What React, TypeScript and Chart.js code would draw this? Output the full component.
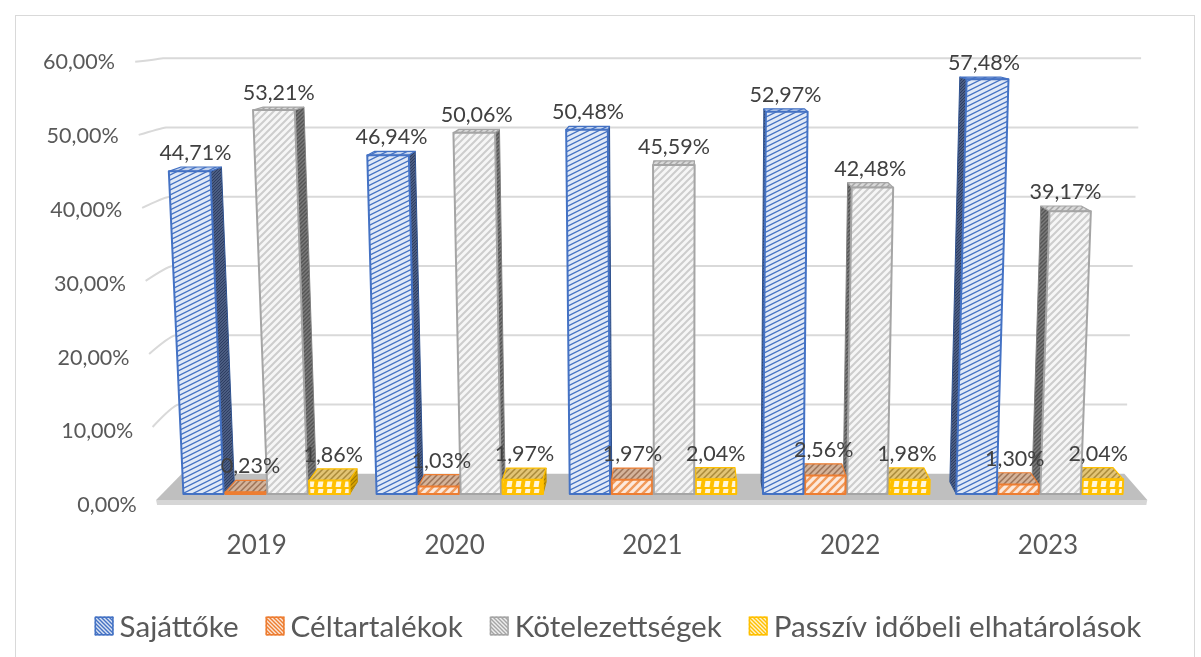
import React, { useEffect, useRef } from "react";
import { Chart, registerables } from "chart.js";
Chart.register(...registerables);

const years = ["2019", "2020", "2021", "2022", "2023"];
const sajattoke = [44.71, 46.94, 50.48, 52.97, 57.48];
const celtartalekok = [0.23, 1.03, 1.97, 2.56, 1.3];
const kotelezettsegek = [53.21, 50.06, 45.59, 42.48, 39.17];
const passziv = [1.86, 1.97, 2.04, 1.98, 2.04];
const seriesNames = ["Sajáttőke", "Céltartalékok", "Kötelezettségek", "Passzív időbeli elhatárolások"];
const yTicks = [0, 10, 20, 30, 40, 50, 60];

const FONT = "Lato, 'Open Sans', sans-serif";
const VX = 680;
const VY = -10;
const DB = 0.024;
const LEAN = 11000;

type Pat = CanvasPattern | string;

function tile(w: number, h: number, draw: (g: CanvasRenderingContext2D) => void): Pat {
  const c = document.createElement("canvas");
  c.width = w;
  c.height = h;
  const g = c.getContext("2d")!;
  draw(g);
  const p = g.createPattern(c, "repeat");
  return p || "#ccc";
}

function stripes(bg: string, fg: string, w: number, h: number, lw: number, dir: "up" | "down"): Pat {
  return tile(w, h, (g) => {
    g.fillStyle = bg;
    g.fillRect(0, 0, w, h);
    g.strokeStyle = fg;
    g.lineWidth = lw;
    g.beginPath();
    if (dir === "up") {
      for (const o of [0, -1, 1]) {
        g.moveTo(-w, 2 * h + o * h);
        g.lineTo(2 * w, -h + o * h);
      }
    } else {
      for (const o of [0, -1, 1]) {
        g.moveTo(-w, -h + o * h);
        g.lineTo(2 * w, 2 * h + o * h);
      }
    }
    g.stroke();
  });
}

function brick(): Pat {
  return tile(9, 8, (g) => {
    g.fillStyle = "#ffc000";
    g.fillRect(0, 0, 9, 8);
    g.fillStyle = "#fff6dc";
    g.beginPath();
    g.moveTo(3.5, 1);
    g.lineTo(8.5, 1);
    g.lineTo(7.5, 7);
    g.lineTo(2.5, 7);
    g.closePath();
    g.fill();
  });
}

export default function App() {
  const ref = useRef<HTMLCanvasElement>(null);

  useEffect(() => {
    if (!ref.current) return;
    const styles = [
      {
        front: stripes("#e1e9f6", "#4472c4", 10, 5, 1.3, "up"),
        top: stripes("#c5d4ee", "#4472c4", 10, 5, 1.3, "up"),
        side: stripes("#5b6d92", "#2c3c60", 3, 3, 1.2, "up"),
        border: "#4472c4",
        sideBorder: "#2f528f",
        legend: stripes("#dae3f3", "#4472c4", 4, 4, 1.4, "down"),
      },
      {
        front: stripes("#fde9dc", "#f19a5b", 8, 8, 2.4, "up"),
        top: stripes("#d4b39a", "#9c7358", 6, 6, 1.5, "up"),
        side: stripes("#c06a2c", "#8c4a1c", 4, 4, 1.2, "up"),
        border: "#ed7d31",
        sideBorder: "#c55a11",
        legend: stripes("#fbe5d6", "#ed7d31", 4, 4, 1.4, "down"),
      },
      {
        front: stripes("#f6f6f6", "#cdcdcd", 7, 7, 2, "up"),
        top: stripes("#d9d9d9", "#a6a6a6", 6, 6, 1.5, "up"),
        side: stripes("#7b7b7b", "#555555", 4, 4, 1.4, "up"),
        border: "#a5a5a5",
        sideBorder: "#7f7f7f",
        legend: stripes("#eeeeee", "#a5a5a5", 4, 4, 1.4, "down"),
      },
      {
        front: brick(),
        top: stripes("#e2c475", "#a98a3a", 6, 6, 1.5, "up"),
        side: stripes("#d9a400", "#a07800", 4, 4, 1.2, "up"),
        border: "#ffc000",
        sideBorder: "#bf9000",
        legend: stripes("#fff2cc", "#ffc000", 4, 4, 1.4, "down"),
      },
    ];

    const seriesData = [sajattoke, celtartalekok, kotelezettsegek, passziv];
    const fmt = (v: number) => v.toFixed(2).replace(".", ",") + "%";

    const pseudo3d = {
      id: "pseudo3d",
      afterDraw(chart: any) {
        const ctx: CanvasRenderingContext2D = chart.ctx;
        const area = chart.chartArea;
        const base = area.bottom;
        const ys = chart.scales.y;
        const xs = chart.scales.x;
        const P = (x: number, y: number, z: number): [number, number] => {
          const X = x + (VX - x) * z;
          const Y = y + (VY - y) * z;
          const h = base - Y;
          return [VX + (X - VX) * (1 + h / LEAN), Y];
        };
        const poly = (pts: [number, number][], fill: Pat, stroke?: string, lw = 1) => {
          ctx.beginPath();
          ctx.moveTo(pts[0][0], pts[0][1]);
          for (let i = 1; i < pts.length; i++) ctx.lineTo(pts[i][0], pts[i][1]);
          ctx.closePath();
          ctx.fillStyle = fill as any;
          ctx.fill();
          if (stroke) {
            ctx.strokeStyle = stroke;
            ctx.lineWidth = lw;
            ctx.lineJoin = "round";
            ctx.stroke();
          }
        };

        ctx.save();
        // outer frame
        ctx.strokeStyle = "#d9d9d9";
        ctx.lineWidth = 1;
        ctx.strokeRect(15.5, 15.5, 1179, 700);

        const L = area.left - 8;
        const R = area.right + 6;
        const ZF = -0.012;
        const ZB = 0.04;

        // floor
        const fl = P(L, base, ZF);
        const fr = P(R, base, ZF);
        poly([fl, fr, [fr[0] - 1, fr[1] + 5], [fl[0] + 1, fl[1] + 5]], "#d6d6d6");
        poly([fl, fr, P(R, base, ZB), P(L, base, ZB)], "#bfbfbf");

        // gridlines (left wall + back wall)
        ctx.strokeStyle = "#d9d9d9";
        ctx.lineWidth = 2;
        for (const v of yTicks) {
          if (v === 0) continue;
          const Y = ys.getPixelForValue(v);
          const a = P(L, Y, ZF);
          const b = P(L, Y, ZB);
          const c = P(R, Y, ZB);
          ctx.beginPath();
          ctx.moveTo(a[0], a[1]);
          ctx.quadraticCurveTo(b[0] - 6, b[1] + 1, b[0], b[1]);
          ctx.lineTo(c[0], c[1]);
          ctx.stroke();
        }

        // y tick labels
        ctx.fillStyle = "#595959";
        ctx.font = `21.5px ${FONT}`;
        ctx.textAlign = "right";
        ctx.textBaseline = "middle";
        for (const v of yTicks) {
          const Y = ys.getPixelForValue(v);
          const p = P(area.left - 22, Y, -0.022);
          ctx.fillText(fmt(v), p[0], p[1]);
        }

        // x category labels
        ctx.font = `26px ${FONT}`;
        ctx.textAlign = "center";
        ctx.fillStyle = "#595959";
        years.forEach((yr, i) => {
          const xc = xs.getPixelForValue(i);
          const p = P(xc, base, -0.025);
          ctx.fillText(yr, p[0], base + 52);
        });

        // bars
        type B = { ds: number; i: number; x0: number; x1: number; yt: number; yb: number; xc: number };
        const bars: B[] = [];
        chart.data.datasets.forEach((_: any, ds: number) => {
          const meta = chart.getDatasetMeta(ds);
          meta.data.forEach((el: any, i: number) => {
            const { x, y, base: b, width } = el.getProps(["x", "y", "base", "width"], true);
            bars.push({ ds, i, x0: x - width / 2, x1: x + width / 2, yt: y, yb: b, xc: x });
          });
        });
        bars.sort((a, b) => Math.abs(b.xc - VX) - Math.abs(a.xc - VX));
        for (const b of bars) {
          const st = styles[b.ds];
          const sx = b.xc < VX ? b.x1 : b.x0;
          poly([P(sx, b.yb, 0), P(sx, b.yt, 0), P(sx, b.yt, DB), P(sx, b.yb, DB)], st.side, st.sideBorder, 1);
          poly([P(b.x0, b.yt, 0), P(b.x1, b.yt, 0), P(b.x1, b.yt, DB), P(b.x0, b.yt, DB)], st.top, st.border, 1.2);
          poly([P(b.x0, b.yb, 0), P(b.x1, b.yb, 0), P(b.x1, b.yt, 0), P(b.x0, b.yt, 0)], st.front, st.border, 2);
        }

        // data labels
        ctx.font = `21.5px ${FONT}`;
        ctx.fillStyle = "#404040";
        ctx.textAlign = "center";
        ctx.textBaseline = "alphabetic";
        for (const b of bars) {
          const pts = [P(b.x0, b.yt, 0), P(b.x1, b.yt, 0), P(b.x1, b.yt, DB), P(b.x0, b.yt, DB)];
          const cx = pts.reduce((s, p) => s + p[0], 0) / 4;
          const top = Math.min(...pts.map((p) => p[1]));
          ctx.fillText(fmt(seriesData[b.ds][b.i]), cx, top - 7);
        }

        // legend: size chosen so the four labels together span the same text width as the original
        ctx.font = `100px ${FONT}`;
        const w100 = seriesNames.reduce((s, n) => s + ctx.measureText(n).width, 0);
        const fs = Math.min(32, (866 / w100) * 100);
        ctx.font = `${fs}px ${FONT}`;
        ctx.textBaseline = "middle";
        ctx.textAlign = "left";
        const box = 19;
        const gapIn = 6;
        const gapOut = 27;
        const widths = seriesNames.map((n) => ctx.measureText(n).width);
        const total = widths.reduce((s, w) => s + w + box + gapIn, 0) + gapOut * (seriesNames.length - 1);
        let lx = 618 - total / 2;
        const ly = 626;
        seriesNames.forEach((n, k) => {
          const st = styles[k];
          ctx.fillStyle = st.legend as any;
          ctx.fillRect(lx, ly - box / 2, box, box);
          ctx.strokeStyle = st.border;
          ctx.lineWidth = 1.5;
          ctx.strokeRect(lx + 0.75, ly - box / 2 + 0.75, box - 1.5, box - 1.5);
          ctx.fillStyle = "#595959";
          ctx.fillText(n, lx + box + gapIn, ly + 1);
          lx += box + gapIn + widths[k] + gapOut;
        });
        ctx.restore();
      },
    };

    const chart = new Chart(ref.current, {
      type: "bar",
      data: {
        labels: years,
        datasets: seriesData.map((d, k) => ({
          label: seriesNames[k],
          data: d,
          backgroundColor: "rgba(0,0,0,0)",
          borderWidth: 0,
          categoryPercentage: 0.87,
          barPercentage: 0.96,
        })),
      },
      options: {
        animation: false,
        responsive: true,
        maintainAspectRatio: false,
        layout: { padding: { left: 170, right: 65, top: 61, bottom: 163 } },
        plugins: { legend: { display: false }, tooltip: { enabled: false } },
        scales: {
          x: { display: false },
          y: { display: false, min: 0, max: 60 },
        },
      },
      plugins: [pseudo3d],
    });
    return () => chart.destroy();
  }, []);

  return (
    <div style={{ position: "absolute", left: 0, top: 0, width: 1201, height: 657, background: "#fff" }}>
      <canvas ref={ref} />
    </div>
  );
}
